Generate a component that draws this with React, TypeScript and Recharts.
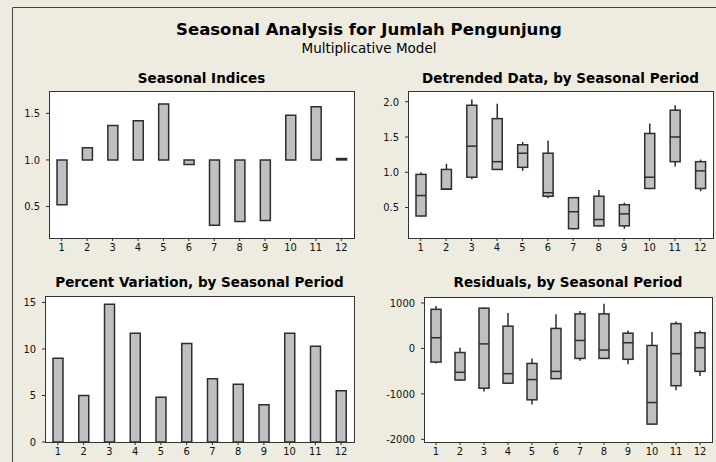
import { BarChart, Bar, XAxis, YAxis } from "recharts";

const periods = ["1", "2", "3", "4", "5", "6", "7", "8", "9", "10", "11", "12"];

// Seasonal indices (bars float from 1.0)
const seasonalIndex = [0.52, 1.13, 1.37, 1.42, 1.6, 0.95, 0.3, 0.34, 0.35, 1.48, 1.57, 1.015];

// Percent variation by period
const percentVariation = [9.0, 5.0, 14.8, 11.7, 4.8, 10.6, 6.8, 6.2, 4.0, 11.7, 10.3, 5.5];

// Detrended data boxplots
const detrendLow = [0.37, 0.75, 0.9, 1.04, 1.02, 0.63, 0.19, 0.23, 0.2, 0.76, 1.08, 0.73];
const detrendQ1 = [0.38, 0.76, 0.93, 1.04, 1.07, 0.66, 0.2, 0.24, 0.24, 0.77, 1.15, 0.77];
const detrendMedian = [0.67, 0.76, 1.37, 1.15, 1.27, 0.71, 0.44, 0.33, 0.41, 0.93, 1.5, 1.02];
const detrendQ3 = [0.97, 1.04, 1.95, 1.76, 1.39, 1.27, 0.64, 0.66, 0.54, 1.55, 1.88, 1.15];
const detrendHigh = [1.0, 1.12, 2.03, 1.97, 1.43, 1.45, 0.64, 0.75, 0.57, 1.69, 1.95, 1.18];

// Residual boxplots
const residLow = [-330, -715, -950, -765, -1235, -665, -270, -235, -350, -1685, -920, -605];
const residQ1 = [-300, -695, -875, -765, -1130, -665, -220, -220, -240, -1665, -820, -505];
const residMedian = [235, -525, 100, -555, -685, -505, 175, -35, 125, -1190, -115, 15];
const residQ3 = [860, -90, 885, 490, -330, 440, 760, 760, 335, 65, 545, 345];
const residHigh = [935, 15, 900, 780, -220, 750, 825, 985, 395, 360, 590, 395];

const TICK_FONT = "Tahoma, 'DejaVu Sans Condensed', 'DejaVu Sans', sans-serif";
const TITLE_FONT = "'DejaVu Sans', sans-serif";
const BG = "#EEEBE1";
const FILL = "#C0C0C0";
const EDGE = "#2e2e2e";

const indexData = periods.map((p, i) => ({
  period: p,
  range: [Math.min(1, seasonalIndex[i]), Math.max(1, seasonalIndex[i])],
}));
const pctData = periods.map((p, i) => ({ period: p, value: percentVariation[i] }));
const boxRows = (lo: number[], q1: number[], md: number[], q3: number[], hi: number[]) =>
  periods.map((p, i) => ({ period: p, range: [lo[i], hi[i]], q1: q1[i], median: md[i], q3: q3[i] }));
const detrendData = boxRows(detrendLow, detrendQ1, detrendMedian, detrendQ3, detrendHigh);
const residData = boxRows(residLow, residQ1, residMedian, residQ3, residHigh);

// whisker + box + median, scaled from the bar's own pixel extent
function BoxShape(props: any) {
  const { x, y, width, height, payload } = props;
  const [lo, hi] = payload.range;
  const top = Math.min(y, y + height);
  const h = Math.abs(height);
  const k = h / (hi - lo);
  const yOf = (v: number) => top + (hi - v) * k;
  const cx = x + width / 2;
  const bTop = yOf(payload.q3);
  const bBot = yOf(payload.q1);
  return (
    <g>
      <line x1={cx} x2={cx} y1={top} y2={top + h} stroke={EDGE} strokeWidth={1.5} />
      <rect x={x} y={bTop} width={width} height={Math.max(bBot - bTop, 1)} fill={FILL} stroke={EDGE} strokeWidth={1.5} />
      <line x1={x} x2={x + width} y1={yOf(payload.median)} y2={yOf(payload.median)} stroke={EDGE} strokeWidth={1.5} />
    </g>
  );
}

interface PanelProps {
  plot: { L: number; T: number; R: number; B: number };
  data: any[];
  dataKey: string;
  domain: [number, number];
  ticks: number[];
  yWidth: number;
  box?: boolean;
  fmt?: (v: number) => string;
}

function Panel({ plot, data, dataKey, domain, ticks, yWidth, box, fmt }: PanelProps) {
  const w = plot.R - plot.L + yWidth + 5;
  const h = plot.B - plot.T + 5 + 22;
  return (
    <div style={{ position: "absolute", left: plot.L - yWidth, top: plot.T - 5 }}>
      <BarChart width={w} height={h} data={data} margin={{ top: 5, right: 5, bottom: 0, left: 0 }}>
        <XAxis
          dataKey="period"
          axisLine={false}
          tickSize={3}
          tickLine={{ stroke: EDGE }}
          height={22}
          interval={0}
          tick={{ fontSize: 11, fill: "#111" }}
        />
        <YAxis
          type="number"
          domain={domain}
          ticks={ticks}
          allowDataOverflow
          axisLine={false}
          tickSize={3}
          tickMargin={6}
          tickLine={{ stroke: EDGE }}
          width={yWidth}
          tickFormatter={fmt}
          tick={{ fontSize: 11, fill: "#111" }}
        />
        <Bar
          dataKey={dataKey}
          barSize={10}
          fill={FILL}
          stroke={EDGE}
          strokeWidth={1.5}
          shape={box ? BoxShape : undefined}
          isAnimationActive={false}
        />
      </BarChart>
    </div>
  );
}

const P1 = { L: 49, T: 91, R: 354, B: 238 };
const P2 = { L: 408, T: 91, R: 713, B: 238 };
const P3 = { L: 45, T: 296, R: 354, B: 442 };
const P4 = { L: 424, T: 297, R: 712, B: 442 };

const titles = [
  { text: "Seasonal Indices", p: P1, y: 83 },
  { text: "Detrended Data, by Seasonal Period", p: P2, y: 83 },
  { text: "Percent Variation, by Seasonal Period", p: P3, y: 287 },
  { text: "Residuals, by Seasonal Period", p: P4, y: 287 },
];

export default function App() {
  return (
    <div
      style={{
        position: "fixed",
        left: 0,
        top: 0,
        width: 716,
        height: 462,
        overflow: "hidden",
        background: BG,
        fontFamily: TICK_FONT,
      }}
    >
      <svg width={716} height={462} style={{ position: "absolute", left: 0, top: 0 }}>
        <rect x={0} y={0} width={716} height={462} fill={BG} />
        <path d="M12.5 462 V7.5 H716" fill="none" stroke="#444" strokeWidth={1} />
        <g fontFamily={TITLE_FONT} fill="#000">
          <text x={369} y={35} textAnchor="middle" fontSize={16.5} fontWeight="bold">
            Seasonal Analysis for Jumlah Pengunjung
          </text>
          <text x={369} y={53} textAnchor="middle" fontSize={13.5}>
            Multiplicative Model
          </text>
          {titles.map((t) => (
            <text key={t.text} x={(t.p.L + t.p.R) / 2} y={t.y} textAnchor="middle" fontSize={13.5} fontWeight="bold">
              {t.text}
            </text>
          ))}
        </g>
        {[P1, P2, P3, P4].map((p, i) => (
          <rect key={i} x={p.L + 0.5} y={p.T + 0.5} width={p.R - p.L} height={p.B - p.T} fill="#fff" stroke="#333" />
        ))}
      </svg>
      <Panel plot={P1} data={indexData} dataKey="range" domain={[0.162, 1.74]} ticks={[0.5, 1, 1.5]} yWidth={40} fmt={(v) => v.toFixed(1)} />
      <Panel plot={P2} data={detrendData} dataKey="range" domain={[0.068, 2.152]} ticks={[0.5, 1, 1.5, 2]} yWidth={40} box fmt={(v) => v.toFixed(1)} />
      <Panel plot={P3} data={pctData} dataKey="value" domain={[0, 15.7]} ticks={[0, 5, 10, 15]} yWidth={40} />
      <Panel plot={P4} data={residData} dataKey="range" domain={[-2058, 1131]} ticks={[-2000, -1000, 0, 1000]} yWidth={60} box />
    </div>
  );
}
